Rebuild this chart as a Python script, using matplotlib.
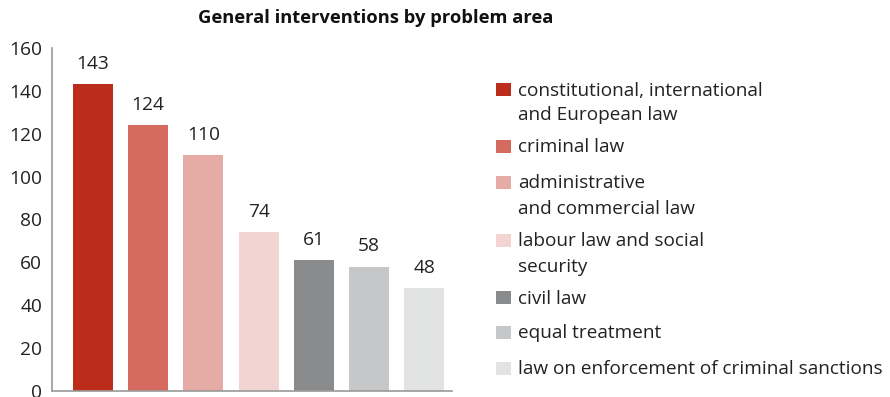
import matplotlib
matplotlib.use("Agg")
import matplotlib.pyplot as plt
from matplotlib.patches import Rectangle

plt.rcParams['font.family'] = ['Open Sans', 'DejaVu Sans']

title = "General interventions by problem area"
categories = [
    "constitutional, international\nand European law",
    "criminal law",
    "administrative\nand commercial law",
    "labour law and social\nsecurity",
    "civil law",
    "equal treatment",
    "law on enforcement of criminal sanctions",
]
values = [143, 124, 110, 74, 61, 58, 48]
colors = ["#BB2C1A", "#D46B5E", "#E5ABA4", "#F2D5D2", "#8A8B8D", "#C6C7C9", "#E2E3E3"]
yticks = [0, 20, 40, 60, 80, 100, 120, 140, 160]

W, H = 890, 397
fig = plt.figure(figsize=(W / 100, H / 100), dpi=100)
ax = fig.add_axes([52 / W, 6 / H, 400 / W, 343 / H])

x = list(range(len(values)))
bars = ax.bar(x, values, width=0.72, color=colors)
for xi, v in zip(x, values):
    ax.annotate(str(v), (xi, v), xytext=(0, 11), textcoords="offset points",
                ha="center", va="baseline", fontsize=13.8, color="#222222")

ax.set_xlim(-0.74, 6.5)
ax.set_ylim(0, 160)
ax.set_yticks(yticks)
ax.set_xticks([])
ax.tick_params(axis="y", length=0, labelsize=13.8, labelcolor="#222222", pad=7)
for s in ["top", "right"]:
    ax.spines[s].set_visible(False)
for s in ["left", "bottom"]:
    ax.spines[s].set_color("#9a9a9a")
    ax.spines[s].set_linewidth(1.2)

fig.text(376 / W, 1 - 18 / H, title, ha="center", va="center",
         fontsize=13.2, fontweight="bold", color="#111111")

# legend
sq_centers = [89.5, 146.5, 182.5, 240.5, 297.5, 332.5, 368]
for yc, c, lab in zip(sq_centers, colors, categories):
    fig.patches.append(Rectangle((496 / W, 1 - (yc + 6.5) / H), 15 / W, 13 / H,
                                 transform=fig.transFigure, facecolor=c, edgecolor="none"))
    fig.text(518 / W, 1 - (yc - 8) / H, lab, ha="left", va="top", fontsize=13.7,
             color="#222222", linespacing=1.5)

fig.savefig("out.png", dpi=100)
